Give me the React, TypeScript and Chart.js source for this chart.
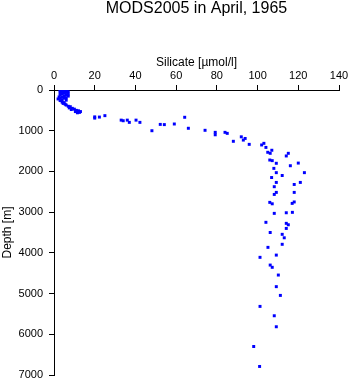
import React, { useEffect, useRef } from "react";
import { Chart, registerables } from "chart.js";

Chart.register(...registerables);

const TITLE = "MODS2005 in April, 1965";
const X_TITLE = "Silicate [µmol/l]";
const Y_TITLE = "Depth [m]";
const X_TICKS = [0, 20, 40, 60, 80, 100, 120, 140];
const Y_TICKS = [0, 1000, 2000, 3000, 4000, 5000, 6000, 7000];

const silicate = [
  3, 4, 5, 6, 3, 5, 7, 4, 6, 3, 5, 7, 4, 6, 3, 5, 7, 2.5, 4, 6, 3, 5, 2, 4, 6, 3, 4, 5, 5.5, 4.5, 6, 7, 8, 7.5, 9, 10, 8.5, 11, 12, 10.5, 11.5, 12.5, 13,
  20, 20, 22.3, 25, 33, 34, 36, 37, 40.3, 42.2, 48.1, 52.2, 54.2, 59.1, 64.2, 66, 74.2, 79.2, 79.2, 84, 85.1, 88.1,
  92, 93.9, 93, 95.9, 102, 103.1, 104.1, 105, 106.2, 107, 115.1, 114.1, 106, 107.2, 109.2, 116.1, 120, 108, 109.2, 112.1, 123, 106.9, 109.2, 108.2, 118, 121, 109.2, 108.2, 118, 106, 107.2, 117, 118, 108.2, 114.1, 117.1, 104.1, 114.1, 115.1, 114.1, 106.2, 112.1, 113.1, 105.1, 112.1,
  109.2, 101.2, 106.2, 107.2, 110.2, 109.2, 111.2, 101.2, 108.2, 109.2, 98.1, 101,
];
const depth = [
  0, 0, 0, 10, 25, 30, 40, 50, 60, 75, 80, 100, 100, 120, 125, 150, 150, 170, 175, 190, 200, 200, 220, 240, 250, 260, 300, 310, 350, 330, 370, 400, 410, 440, 450, 470, 480, 500, 510, 530, 560, 550, 530,
  660, 690, 665, 630, 740, 755, 740, 795, 740, 795, 1000, 845, 850, 835, 670, 940, 990, 1040, 1100, 1040, 1065, 1260,
  1150, 1190, 1230, 1335, 1350, 1310, 1410, 1530, 1555, 1480, 1555, 1620, 1720, 1735, 1800, 1860, 1795, 1925, 2030, 2100, 2030, 2150, 2270, 2375, 2320, 2270, 2515, 2565, 2515, 2760, 2795, 2785, 2750, 3030, 3015, 3005, 3250, 3275, 3310, 3400, 3500, 3545, 3630, 3865, 3790,
  4055, 4110, 4300, 4355, 4545, 4830, 5045, 5315, 5545, 5815, 6300, 6790,
];

const FONT = "'Liberation Sans', Arial, Helvetica, sans-serif";

const titlePlugin = {
  id: "titleText",
  afterDraw(chart: any) {
    const ctx = chart.ctx;
    const ca = chart.chartArea;
    ctx.save();
    ctx.fillStyle = "#000";
    ctx.font = `16px ${FONT}`;
    ctx.textAlign = "center";
    ctx.textBaseline = "middle";
    ctx.fillText(TITLE, (ca.left + ca.right) / 2, 9);
    ctx.restore();
  },
};

export default function App() {
  const ref = useRef<HTMLCanvasElement>(null);
  useEffect(() => {
    document.body.style.margin = "0";
    const points = silicate.map((s, i) => ({ x: s, y: depth[i] }));
    const chart = new Chart(ref.current as HTMLCanvasElement, {
      type: "scatter",
      data: {
        datasets: [
          {
            data: points,
            pointStyle: "rect",
            pointRadius: 2.1,
            pointBorderWidth: 0,
            backgroundColor: "#0000ff",
            borderColor: "#0000ff",
          },
        ],
      },
      options: {
        animation: false,
        responsive: false,
        layout: { padding: { top: 50, left: 0, right: 12, bottom: 9 } },
        plugins: { legend: { display: false }, tooltip: { enabled: false }, title: { display: false } },
        scales: {
          x: {
            type: "linear",
            position: "top",
            min: 0,
            max: 140,
            afterFit: (s: any) => {
              s.height = 40;
              s.paddingLeft = 0;
              s.paddingRight = 0;
            },
            afterBuildTicks: (s: any) => {
              s.ticks = X_TICKS.map((v) => ({ value: v }));
            },
            grid: { display: true, drawOnChartArea: false, drawTicks: true, tickLength: 5, color: "#000" },
            border: { display: true, color: "#000", width: 1 },
            ticks: { color: "#000", font: { size: 11, family: FONT }, padding: 2, maxRotation: 0, callback: (v: any) => String(v) },
            title: { display: true, text: X_TITLE, color: "#000", font: { size: 12, family: FONT }, padding: { top: 5, bottom: 0 } },
          },
          y: {
            type: "linear",
            reverse: true,
            min: 0,
            max: 7000,
            afterFit: (s: any) => {
              s.width = 54;
              s.paddingTop = 0;
              s.paddingBottom = 0;
            },
            afterBuildTicks: (s: any) => {
              s.ticks = Y_TICKS.map((v) => ({ value: v }));
            },
            grid: { display: true, drawOnChartArea: false, drawTicks: true, tickLength: 5, color: "#000" },
            border: { display: true, color: "#000", width: 1 },
            ticks: { color: "#000", font: { size: 11, family: FONT }, padding: 6, callback: (v: any) => String(v) },
            title: { display: true, text: Y_TITLE, color: "#000", font: { size: 12, family: FONT }, padding: { top: 0, bottom: 0 } },
          },
        },
      },
      plugins: [titlePlugin],
    });
    return () => chart.destroy();
  }, []);
  return (
    <div style={{ width: 351, height: 384 }}>
      <canvas ref={ref} width={351} height={384} style={{ display: "block" }} />
    </div>
  );
}
